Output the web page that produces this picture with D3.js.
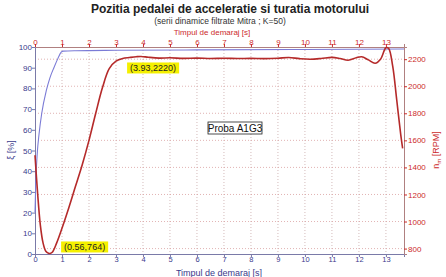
<!DOCTYPE html>
<html><head><meta charset="utf-8">
<script src="https://cdn.jsdelivr.net/npm/d3@7"></script>
<style>body{margin:0;background:#fff}svg{display:block;font-family:"Liberation Sans",Arial,sans-serif}</style>
</head><body><svg id="c" width="446" height="277"></svg>
<script>
// ---- data ----
const timeTicks = [0,1,2,3,4,5,6,7,8,9,10,11,12,13];
const pctTicks = [0,10,20,30,40,50,60,70,80,90,100];
const rpmTicks = [800,1000,1200,1400,1600,1800,2000,2200];
const pedalT = [0,0.03,0.08,0.15,0.25,0.42,0.55,0.7,0.85,0.97,1.05,1.5,3,6,10,13.67];
const pedalV = [20,35,48,58,68,79,85,90,94.5,97.5,98,98.2,98.4,98.6,98.8,99];
const rpmT = [0,0.1,0.2,0.3,0.4,0.5,0.56,0.65,0.8,1.0,1.25,1.5,1.75,2.0,2.25,2.5,2.75,3.0,3.25,3.5,3.75,3.93,4.2,4.6,5,5.5,6,6.5,7,7.5,8,8.5,9,9.4,9.8,10.2,10.6,11,11.3,11.6,11.9,12.1,12.35,12.6,12.8,13.0,13.1,13.25,13.4,13.55,13.62];
const rpmV = [1490,1200,970,840,780,765,764,775,840,950,1100,1260,1420,1600,1800,1990,2130,2185,2205,2212,2218,2220,2214,2208,2210,2206,2208,2205,2207,2205,2206,2204,2207,2212,2204,2200,2205,2213,2205,2192,2210,2218,2195,2170,2200,2285,2280,2150,1900,1640,1540];
const annotations = [{t:3.93,v:2220,label:"(3.93,2220)"},{t:0.56,v:764,label:"(0.56,764)"}];
const titleText = "Pozitia pedalei de acceleratie si turatia motorului";
const subtitleText = "(serii dinamice filtrate Mitra ; K=50)";
const xLabel = "Timpul de demaraj  [s]";
const probaText = "Proba A1G3";

// ---- layout ----
const L=35,R=404,T=47,B=254;
const navy="#3a3a8c", red="#cc2b2b";
const svg=d3.select("#c");
const x=d3.scaleLinear().domain([0,13.67]).range([L,R]);
const yL=d3.scaleLinear().domain([0,100]).range([B,T]);
const yR=d3.scaleLinear().domain([760,2290]).range([B,T]);

// grid
svg.append("g").selectAll("line").data(timeTicks.slice(1)).join("line")
  .attr("x1",d=>x(d)).attr("x2",d=>x(d)).attr("y1",T).attr("y2",B)
  .attr("stroke","#c9a9a9").attr("stroke-width",0.8).attr("stroke-dasharray","1,2");
svg.append("g").selectAll("line").data(rpmTicks).join("line")
  .attr("x1",L).attr("x2",R).attr("y1",d=>yR(d)).attr("y2",d=>yR(d))
  .attr("stroke","#d9a0a0").attr("stroke-width",0.8).attr("stroke-dasharray","1,2");

// axes
const fs="8px";
const gB=svg.append("g").attr("transform",`translate(0,${B})`)
  .call(d3.axisBottom(x).tickValues(timeTicks).tickSize(3).tickFormat(d3.format("d")));
const gT=svg.append("g").attr("transform",`translate(0,${T})`)
  .call(d3.axisTop(x).tickValues(timeTicks).tickSize(3).tickFormat(d3.format("d")));
const gL=svg.append("g").attr("transform",`translate(${L},0)`)
  .call(d3.axisLeft(yL).tickValues(pctTicks).tickSize(3).tickFormat(d3.format("d")));
const gR=svg.append("g").attr("transform",`translate(${R},0)`)
  .call(d3.axisRight(yR).tickValues(rpmTicks).tickSize(3).tickFormat(d3.format("d")));
[gB,gL].forEach(g=>{g.selectAll("text").attr("fill",navy).style("font-size",fs);g.selectAll("line,path").attr("stroke","#7a7aa8");});
[gT,gR].forEach(g=>{g.selectAll("text").attr("fill",red).style("font-size",fs);g.selectAll("line").attr("stroke",red);g.select("path").attr("stroke","#b08080");});
gL.selectAll("text").attr("x",-3);
gR.selectAll("text").attr("x",4);
gB.selectAll("text").attr("y",3).style("font-size","7.5px");
gT.selectAll("text").attr("y",-2);

// lines
const pedal=pedalT.map((t,i)=>[t,pedalV[i]]);
const rpm=rpmT.map((t,i)=>[t,rpmV[i]]);
svg.append("path").datum(pedal).attr("fill","none").attr("stroke","#7b7bd6").attr("stroke-width",1.1)
  .attr("d",d3.line().x(d=>x(d[0])).y(d=>yL(d[1])).curve(d3.curveMonotoneX));
svg.append("path").datum(rpm).attr("fill","none").attr("stroke","#b52a2a").attr("stroke-width",1.6)
  .attr("d",d3.line().x(d=>x(d[0])).y(d=>yR(d[1])).curve(d3.curveCatmullRom));

// annotations
const ann=svg.append("g");
annotations.forEach((a,i)=>{
  const cx=x(a.t), cy=yR(a.v);
  const bx=i===0?cx-14:cx+11, by=i===0?cy+6:cy-12;
  const txt=ann.append("text").attr("x",bx+3).attr("y",by+8.5).text(a.label).style("font-size","9px").attr("fill","#222");
  const w=txt.node().getComputedTextLength();
  ann.insert("rect","text").attr("x",bx).attr("y",by).attr("width",w+6).attr("height",11).attr("fill","#f5f000");
});
// proba box
svg.append("rect").attr("x",208).attr("y",122).attr("width",54).attr("height",12).attr("fill","#fff").attr("stroke","#222").attr("stroke-width",0.8);
svg.append("text").attr("x",235).attr("y",131.5).attr("text-anchor","middle").text(probaText).style("font-size","10px").attr("fill","#111");

// titles
svg.append("text").attr("x",230).attr("y",13).attr("text-anchor","middle").text(titleText).style("font-size","12px").style("font-weight","bold").attr("fill","#222");
svg.append("text").attr("x",220).attr("y",24).attr("text-anchor","middle").text(subtitleText).style("font-size","8.5px").attr("fill","#333");
svg.append("text").attr("x",212).attr("y",35).attr("text-anchor","middle").text(xLabel).style("font-size","8px").attr("fill",red);
svg.append("text").attr("x",219).attr("y",275.5).attr("text-anchor","middle").text(xLabel).style("font-size","9px").attr("fill",navy);
svg.append("text").attr("transform","translate(14,150) rotate(-90)").attr("text-anchor","middle").text("ξ  [%]").style("font-size","9px").attr("fill",navy);
const rl=svg.append("text").attr("transform","translate(439,150) rotate(-90)").attr("text-anchor","middle").style("font-size","9px").attr("fill",red);
rl.append("tspan").text("n");
rl.append("tspan").text("m").style("font-size","6px").attr("dy",2);
rl.append("tspan").text("  [RPM]").attr("dy",-2);
</script></body></html>
